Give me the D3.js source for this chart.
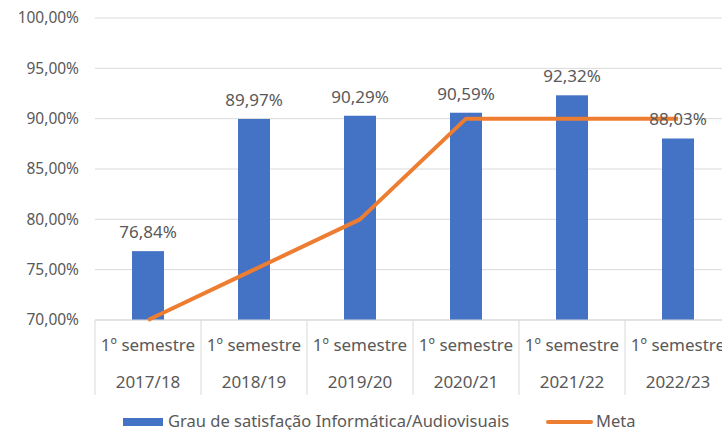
<!DOCTYPE html>
<html>
<head>
<meta charset="utf-8">
<script src="https://cdn.jsdelivr.net/npm/d3@7"></script>
<style>
  body { margin: 0; background: #fff; }
  text { font-family: "Noto Sans", "Open Sans", sans-serif; fill: #595959; }
</style>
</head>
<body>
<svg id="chart" width="722" height="430"></svg>
<script>
// data
const semestres = ["1º semestre", "1º semestre", "1º semestre", "1º semestre", "1º semestre", "1º semestre"];
const anos = ["2017/18", "2018/19", "2019/20", "2020/21", "2021/22", "2022/23"];
const satisfacao = [76.84, 89.97, 90.29, 90.59, 92.32, 88.03];
const meta = [70, 75, 80, 90, 90, 90];
const yTicks = [70, 75, 80, 85, 90, 95, 100];

const margin = {top: 18, right: -9, bottom: 110, left: 95};
const width = 722 - margin.left - margin.right;
const height = 430 - margin.top - margin.bottom;

const svg = d3.select("#chart");
const g = svg.append("g")
    .attr("transform", "translate(" + margin.left + "," + margin.top + ")");

const x = d3.scaleBand()
    .domain(d3.range(anos.length))
    .range([0, width]);

const y = d3.scaleLinear()
    .domain([70, 100])
    .range([height, 0]);

const fmt = v => v.toFixed(2).replace(".", ",") + "%";

// gridlines
g.append("g")
    .selectAll("line")
    .data(yTicks)
    .enter().append("line")
    .attr("x1", 0)
    .attr("x2", width)
    .attr("y1", d => y(d))
    .attr("y2", d => y(d))
    .style("stroke", "#d9d9d9")
    .style("stroke-width", 1);

// y labels
g.append("g")
    .selectAll("text")
    .data(yTicks)
    .enter().append("text")
    .attr("x", -16)
    .attr("y", d => y(d))
    .attr("dy", "0.35em")
    .attr("text-anchor", "end")
    .style("font-size", "15.5px")
    .text(d => fmt(d));

// bars
const barW = 32;
g.append("g")
    .selectAll("rect")
    .data(satisfacao)
    .enter().append("rect")
    .attr("x", (d, i) => x(i) + x.bandwidth() / 2 - barW / 2)
    .attr("y", d => y(d))
    .attr("width", barW)
    .attr("height", d => height - y(d))
    .style("fill", "#4472c4");

// x axis separators
const axisG = g.append("g").attr("transform", "translate(0," + height + ")");
axisG.append("line")
    .attr("x1", 0).attr("x2", width)
    .style("stroke", "#d9d9d9");
axisG.selectAll("line.sep")
    .data(d3.range(anos.length + 1))
    .enter().append("line")
    .attr("class", "sep")
    .attr("x1", i => i < anos.length ? x(i) : width)
    .attr("x2", i => i < anos.length ? x(i) : width)
    .attr("y1", 0)
    .attr("y2", 75)
    .style("stroke", "#d9d9d9");
axisG.selectAll("text.sem")
    .data(semestres)
    .enter().append("text")
    .attr("class", "sem")
    .attr("x", (d, i) => x(i) + x.bandwidth() / 2)
    .attr("y", 31)
    .attr("text-anchor", "middle")
    .style("font-size", "17px")
    .text(d => d);
axisG.selectAll("text.ano")
    .data(anos)
    .enter().append("text")
    .attr("class", "ano")
    .attr("x", (d, i) => x(i) + x.bandwidth() / 2)
    .attr("y", 68)
    .attr("text-anchor", "middle")
    .style("font-size", "17px")
    .text(d => d);

// meta line
const line = d3.line()
    .x((d, i) => x(i) + x.bandwidth() / 2)
    .y(d => y(d));
g.append("path")
    .datum(meta)
    .attr("d", line)
    .style("fill", "none")
    .style("stroke", "#ed7d31")
    .style("stroke-width", 4)
    .style("stroke-linejoin", "round");

// data labels
g.append("g")
    .selectAll("text")
    .data(satisfacao)
    .enter().append("text")
    .attr("x", (d, i) => x(i) + x.bandwidth() / 2)
    .attr("y", d => y(d) - 13)
    .attr("text-anchor", "middle")
    .style("font-size", "17px")
    .text(d => fmt(d));

// legend
const legend = svg.append("g").attr("transform", "translate(0,421)");
legend.append("rect")
    .attr("x", 123).attr("y", -3)
    .attr("width", 40).attr("height", 8)
    .style("fill", "#4472c4");
legend.append("text")
    .attr("x", 168).attr("dy", "0.35em")
    .style("font-size", "16.5px")
    .text("Grau de satisfação Informática/Audiovisuais");
legend.append("line")
    .attr("x1", 548).attr("x2", 591)
    .attr("y1", 1).attr("y2", 1)
    .style("stroke", "#ed7d31")
    .style("stroke-width", 4)
    .style("stroke-linecap", "round");
legend.append("text")
    .attr("x", 596).attr("dy", "0.35em")
    .style("font-size", "16.5px")
    .text("Meta");
</script>
</body>
</html>
